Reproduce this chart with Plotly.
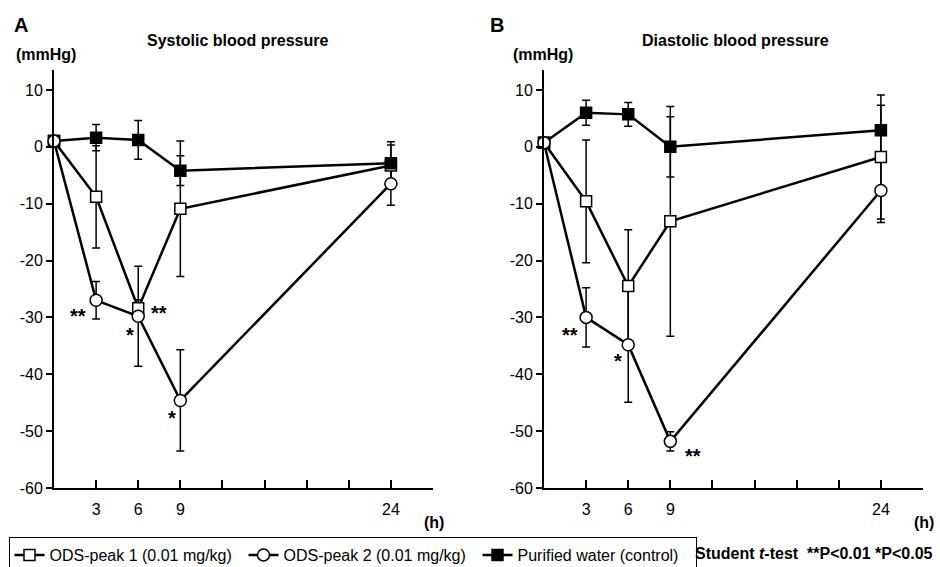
import plotly.graph_objects as go

# ---------------- data ----------------
hours = [0, 3, 6, 9, 24]

# Systolic blood pressure (mmHg change)
sys_peak1 = [1.0, -8.8, -28.4, -10.9, -3.3]
sys_peak1_err = [0, 9.0, 1.5, 11.9, 3.6]
sys_peak2 = [1.0, -27.0, -29.8, -44.6, -6.5]
sys_peak2_err = [0, 3.3, 8.8, 8.9, 3.8]
sys_water = [1.0, 1.6, 1.2, -4.2, -2.9]
sys_water_err = [0, 2.3, 3.4, 2.6, 3.8]

# Diastolic blood pressure (mmHg change)
dia_peak1 = [0.7, -9.6, -24.5, -13.1, -1.8]
dia_peak1_err = [0, 10.8, 9.9, 20.2, 10.9]
dia_peak2 = [0.7, -30.0, -34.8, -51.8, -7.7]
dia_peak2_err = [0, 5.2, 10.1, 1.7, 5.6]
dia_water = [0.7, 6.0, 5.7, 0.0, 2.9]
dia_water_err = [0, 2.2, 2.1, 5.3, 4.4]

series_names = ["ODS-peak 1 (0.01 mg/kg)", "ODS-peak 2 (0.01 mg/kg)", "Purified water (control)"]

x_tickvals = [3, 6, 9, 12, 15, 18, 21, 24, 27]
x_ticktext = ["3", "6", "9", "", "", "", "", "24", ""]
y_tickvals = [-60, -50, -40, -30, -20, -10, 0, 10]
y_ticktext = ["-60", "-50", "-40", "-30", "-20", "-10", "0", "10"]

# significance marks: (x, y, text)
sys_marks = [(1.71, -29.8, "**"), (5.41, -33.1, "*"), (7.48, -29.3, "**"), (8.41, -47.7, "*")]
dia_marks = [(1.85, -33.1, "**"), (5.27, -37.7, "*"), (10.6, -54.4, "**")]

FONT = "Liberation Sans, Arial, Helvetica, sans-serif"
W, H = 940, 567

fig = go.Figure()

panels = [
    ("x", "y", [(sys_peak1, sys_peak1_err, 0), (sys_water, sys_water_err, 2), (sys_peak2, sys_peak2_err, 1)], True),
    ("x2", "y2", [(dia_peak1, dia_peak1_err, 0), (dia_water, dia_water_err, 2), (dia_peak2, dia_peak2_err, 1)], False),
]
symbols = ["square", "circle", "square"]
fills = ["white", "white", "black"]
legend_widths = [189, 189, 173]

# error bars first (underneath all markers)
for xa, ya, series, _ in panels:
    for y, err, k in series:
        fig.add_trace(go.Scatter(
            x=hours, y=y, xaxis=xa, yaxis=ya, mode="markers",
            marker=dict(size=1, opacity=0, color="black"),
            error_y=dict(type="data", array=err, color="black", thickness=1.5, width=4),
            showlegend=False, hoverinfo="skip", cliponaxis=False,
        ))

# lines + markers (drawing order: peak1, water, peak2)
for xa, ya, series, show in panels:
    for y, err, k in series:
        tr = go.Scatter(
            x=hours, y=y, xaxis=xa, yaxis=ya, name=series_names[k],
            mode="lines+markers",
            line=dict(color="black", width=2.5),
            marker=dict(symbol=symbols[k], size=12 if symbols[k] == "circle" else 11,
                        color=fills[k], line=dict(color="black", width=1.5)),
            cliponaxis=False, showlegend=show, legendrank=k + 1,
        )
        if show:
            tr.legendwidth = legend_widths[k]
        fig.add_trace(tr)

xcommon = dict(range=[0, 27], tickmode="array", tickvals=x_tickvals, ticktext=x_ticktext,
               ticks="inside", ticklen=8, tickwidth=2, tickcolor="black",
               showline=True, linewidth=2, linecolor="black", showgrid=False, zeroline=False,
               tickfont=dict(family=FONT, size=16, color="black"), ticklabelstandoff=6)
ycommon = dict(range=[-60, 13.5], tickmode="array", tickvals=y_tickvals, ticktext=y_ticktext,
               ticks="outside", ticklen=6, tickwidth=2, tickcolor="black",
               showline=True, linewidth=2, linecolor="black", showgrid=False, zeroline=False,
               tickfont=dict(family=FONT, size=16, color="black"))

ydom = [1 - 488 / H, 1 - 70 / H]
fig.update_layout(
    width=W, height=H,
    margin=dict(l=0, r=0, t=0, b=0, autoexpand=False),
    paper_bgcolor="white", plot_bgcolor="white",
    font=dict(family=FONT, size=16, color="black"),
    xaxis=dict(domain=[54 / W, 433 / W], anchor="y", **xcommon),
    yaxis=dict(domain=ydom, anchor="x", **ycommon),
    xaxis2=dict(domain=[544 / W, 923 / W], anchor="y2", **xcommon),
    yaxis2=dict(domain=ydom, anchor="x2", **ycommon),
    showlegend=True,
    legend=dict(orientation="h", x=8.5 / W, xanchor="left", y=1 - 537 / H, yanchor="top",
                bordercolor="black", borderwidth=1, bgcolor="white",
                font=dict(family=FONT, size=16, color="black"),
                traceorder="normal", itemclick=False, itemdoubleclick=False),
)

ann = []


def paper_text(px, py, text, size, xanchor="center"):
    ann.append(dict(x=px / W, y=1 - py / H, xref="paper", yref="paper", text=text,
                    showarrow=False, xanchor=xanchor, yanchor="middle",
                    font=dict(family=FONT, size=size, color="black")))


paper_text(21, 25, "<b>A</b>", 20)
paper_text(497, 25, "<b>B</b>", 20)
paper_text(238, 40, "<b>Systolic blood pressure</b>", 16)
paper_text(735, 40, "<b>Diastolic blood pressure</b>", 16)
paper_text(46, 54, "<b>(mmHg)</b>", 16)
paper_text(542.5, 54, "<b>(mmHg)</b>", 16)
paper_text(434, 522, "<b>(h)</b>", 16)
paper_text(923.5, 522, "<b>(h)</b>", 16)
paper_text(693, 553, "<b>Student <i>t</i>-test&nbsp; **P&lt;0.01 *P&lt;0.05</b>", 16, xanchor="left")

for (mx, my, t) in sys_marks:
    ann.append(dict(x=mx, y=my, xref="x", yref="y", text="<b>" + t + "</b>", showarrow=False,
                    font=dict(family=FONT, size=20, color="black")))
for (mx, my, t) in dia_marks:
    ann.append(dict(x=mx, y=my, xref="x2", yref="y2", text="<b>" + t + "</b>", showarrow=False,
                    font=dict(family=FONT, size=20, color="black")))

fig.update_layout(annotations=ann)

fig.write_html("out.html")
